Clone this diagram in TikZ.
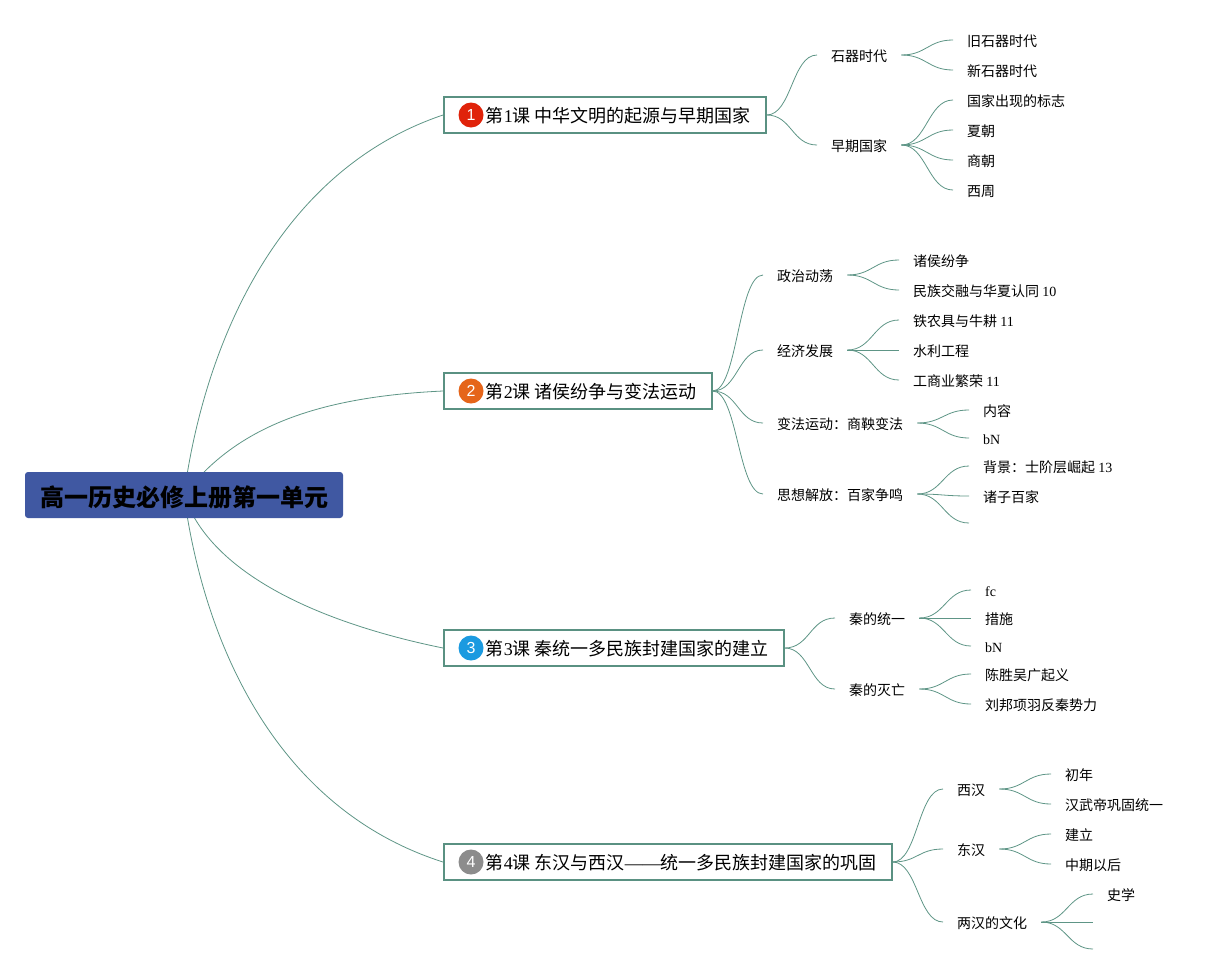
\documentclass[tikz,border=0pt]{standalone}
\usepackage{fontspec}
\setmainfont{Liberation Serif}
\newfontfamily\cjk{Noto Sans CJK SC}
\newfontfamily\badgefont{Liberation Sans}
\newcommand{\lat}[1]{{\rmfamily #1}}
\usetikzlibrary{backgrounds}
\definecolor{linkgreen}{HTML}{5E9586}
\definecolor{boxgreen}{HTML}{5A9182}
\definecolor{rootblue}{HTML}{4058A2}
\tikzset{
  rootbox/.style={rectangle, rounded corners=3pt, fill=rootblue, minimum width=318pt,
    minimum height=46pt, inner sep=0pt, text height=23pt, text depth=1pt,
    font=\cjk\fontsize{24}{24}\selectfont\bfseries},
  mainbox/.style={rectangle, draw=boxgreen, line width=1.6pt, fill=white, anchor=west,
    minimum height=36pt, inner xsep=14.5pt, inner ysep=0pt, text height=17pt, text depth=1.5pt,
    font=\cjk\fontsize{18}{18}\selectfont},
  badge/.style={circle, minimum size=25pt, inner sep=0pt, text=white,
    font=\badgefont\fontsize{16}{16}\selectfont},
  subnode/.style={anchor=west, inner xsep=14pt, inner ysep=2pt, text height=14.5pt, text depth=2pt,
    font=\cjk\fontsize{14}{14}\selectfont},
  leafnode/.style={subnode},
  link/.style={draw=linkgreen, line width=0.8pt}
}
\begin{document}
\begin{tikzpicture}[x=1pt, y=-1pt]
  \useasboundingbox (0,0) rectangle (1223,975);

  % central topic
  \node[rootbox] (root) at (184,495) {高一历史必修上册第一单元};

  % four lessons
  \node[mainbox] (m1) at (443,115) {\hspace*{27.5pt}第\lat{1}课 中华文明的起源与早期国家\hspace*{0.5pt}};
  \node[mainbox] (m2) at (443,391) {\hspace*{27.5pt}第\lat{2}课 诸侯纷争与变法运动\hspace*{0.5pt}};
  \node[mainbox] (m3) at (443,648) {\hspace*{27.5pt}第\lat{3}课 秦统一多民族封建国家的建立\hspace*{0.5pt}};
  \node[mainbox] (m4) at (443,862) {\hspace*{27.5pt}第\lat{4}课 东汉与西汉\lat{——}统一多民族封建国家的巩固\hspace*{0.5pt}};

  \node[badge, fill={rgb,255:red,224;green,35;blue,10}] (b1) at (471,115) {1};
  \node[badge, fill={rgb,255:red,229;green,101;blue,26}] (b2) at (471,391) {2};
  \node[badge, fill={rgb,255:red,27;green,154;blue,224}] (b3) at (471,648) {3};
  \node[badge, fill={rgb,255:red,140;green,140;blue,140}] (b4) at (471,862) {4};

  % second level
  \foreach \name/\x/\y/\txt in {
    s1/817/55/石器时代, s2/817/145/早期国家,
    s3/763/275/政治动荡, s4/763/350/经济发展, s5/763/423/变法运动：商鞅变法, s6/763/494/思想解放：百家争鸣,
    s7/835/618/秦的统一, s8/835/689/秦的灭亡,
    s9/943/789/西汉, s10/943/849/东汉, s11/943/922/两汉的文化} {
    \node[subnode] (\name) at (\x,\y) {\txt};
  }

  % leaves
  \foreach \name/\x/\y/\txt in {
    a1/953/40/旧石器时代, a2/953/70/新石器时代,
    a3/953/100/国家出现的标志, a4/953/130/夏朝, a5/953/160/商朝, a6/953/190/西周,
    a7/899/260/诸侯纷争, a8/899/290/{民族交融与华夏认同 \lat{10}},
    a9/899/320/{铁农具与牛耕 \lat{11}}, a10/899/350/水利工程, a11/899/380/{工商业繁荣 \lat{11}},
    a12/969/410/内容, a13/969/438/\lat{bN},
    a14/969/466/{背景：士阶层崛起 \lat{13}}, a15/969/496/诸子百家, a16/969/523/{},
    a17/971/590/\lat{fc}, a18/971/618/措施, a19/971/646/\lat{bN},
    a20/971/674/陈胜吴广起义, a21/971/704/刘邦项羽反秦势力,
    a22/1051/774/初年, a23/1051/804/汉武帝巩固统一,
    a24/1051/834/建立, a25/1051/864/中期以后,
    a26/1093/894/史学, a27/1093/922/{}, a28/1093/949/{}} {
    \node[leafnode] (\name) at (\x,\y) {\txt};
  }

  % central links, hidden under the central box
  \begin{pgfonlayer}{background}
    \draw[link] (root.center) .. controls (205,340) and (280,170) .. (m1.west);
    \draw[link] (root.center) .. controls (235,428) and (315,397) .. (m2.west);
    \draw[link] (root.center) .. controls (212,578) and (330,625) .. (m3.west);
    \draw[link] (root.center) .. controls (205,650) and (280,810) .. (m4.west);
  \end{pgfonlayer}

  % lesson to second level
  \foreach \a/\b in {m1/s1, m1/s2, m2/s3, m2/s4, m2/s5, m2/s6, m3/s7, m3/s8, m4/s9, m4/s10, m4/s11} {
    \draw[link] (\a.east) .. controls +(25,0) and +(-25,0) .. (\b.west);
  }

  % second level to leaves
  \foreach \a/\b in {s1/a1, s1/a2, s2/a3, s2/a4, s2/a5, s2/a6, s3/a7, s3/a8, s4/a9, s4/a10, s4/a11,
    s5/a12, s5/a13, s6/a14, s6/a15, s6/a16, s7/a17, s7/a18, s7/a19, s8/a20, s8/a21,
    s9/a22, s9/a23, s10/a24, s10/a25, s11/a26, s11/a27, s11/a28} {
    \draw[link] (\a.east) .. controls +(25,0) and +(-25,0) .. (\b.west);
  }
\end{tikzpicture}
\end{document}
